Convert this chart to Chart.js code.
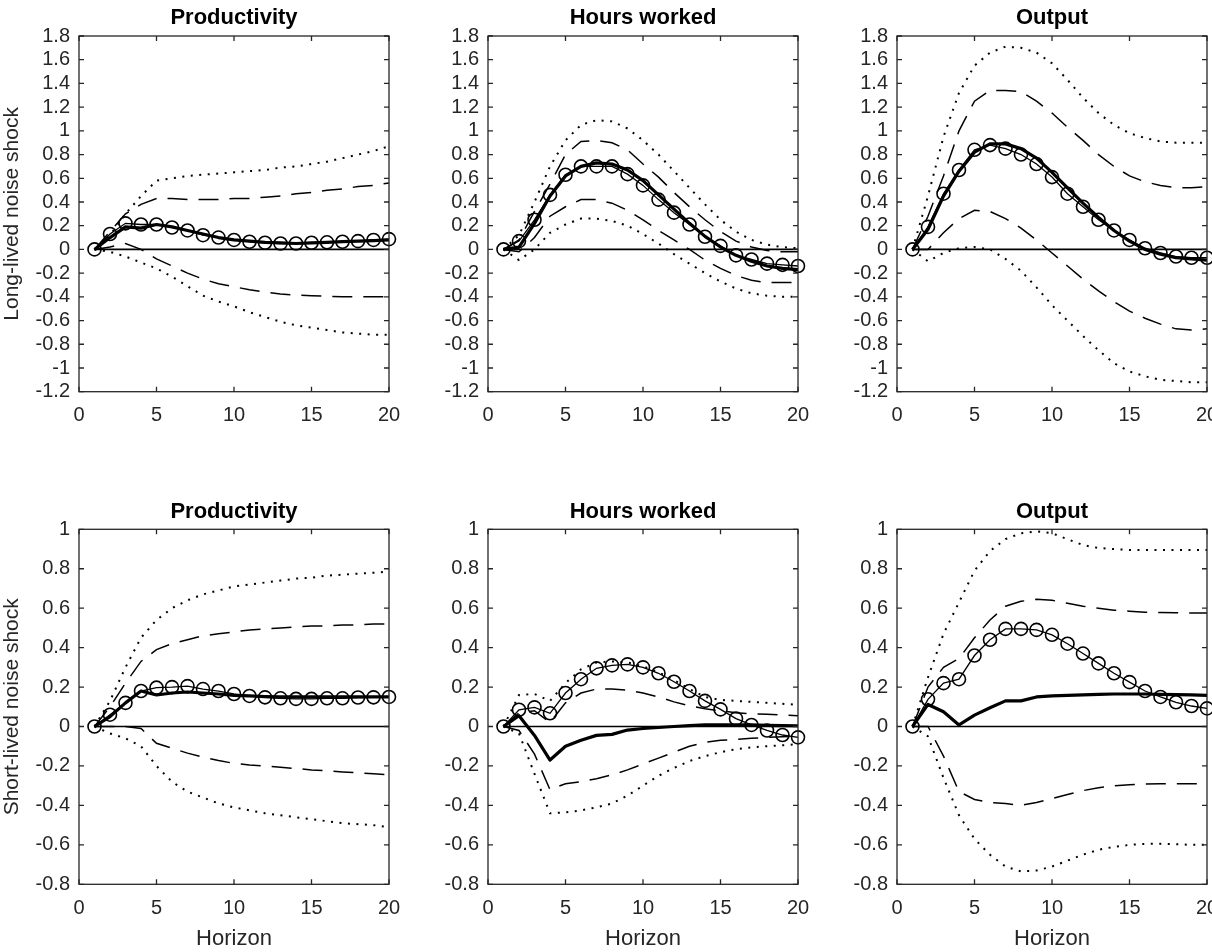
<!DOCTYPE html>
<html>
<head>
<meta charset="utf-8">
<script src="https://cdn.jsdelivr.net/npm/chart.js@4.4.1/dist/chart.umd.min.js"></script>
<style>
  html, body { margin: 0; padding: 0; background: #fff; width: 1212px; height: 952px; overflow: hidden; position: relative; }
  canvas { position: absolute; }
</style>
</head>
<body>
<canvas id="p0"></canvas>
<canvas id="p1"></canvas>
<canvas id="p2"></canvas>
<canvas id="p3"></canvas>
<canvas id="p4"></canvas>
<canvas id="p5"></canvas>
<script>
// Impulse-response horizons and axis ticks
const horizon = [1, 2, 3, 4, 5, 6, 7, 8, 9, 10, 11, 12, 13, 14, 15, 16, 17, 18, 19, 20];
const xTickValues = [0, 5, 10, 15, 20];
const yTicksLong = [-1.2, -1, -0.8, -0.6, -0.4, -0.2, 0, 0.2, 0.4, 0.6, 0.8, 1, 1.2, 1.4, 1.6, 1.8];
const yTicksShort = [-0.8, -0.6, -0.4, -0.2, 0, 0.2, 0.4, 0.6, 0.8, 1];

const variableTitles = ['Productivity', 'Hours worked', 'Output'];
const shockLabels = ['Long-lived noise shock', 'Short-lived noise shock'];
const xAxisLabel = 'Horizon';

// Long-lived noise shock: productivity
const prodLongPoint = [0, 0.10, 0.19, 0.18, 0.21, 0.19, 0.16, 0.13, 0.10, 0.08, 0.07, 0.06, 0.055, 0.05, 0.055, 0.06, 0.065, 0.07, 0.075, 0.08];
const prodLongModel = [0, 0.13, 0.22, 0.21, 0.21, 0.185, 0.16, 0.12, 0.10, 0.08, 0.065, 0.056, 0.05, 0.05, 0.056, 0.06, 0.065, 0.07, 0.08, 0.087];
const prodLongHi68 = [0, 0.15, 0.30, 0.38, 0.43, 0.43, 0.42, 0.42, 0.42, 0.43, 0.43, 0.44, 0.45, 0.47, 0.48, 0.50, 0.51, 0.53, 0.54, 0.56];
const prodLongLo68 = [0, 0.02, 0.05, 0.0, -0.08, -0.14, -0.20, -0.25, -0.29, -0.315, -0.34, -0.36, -0.375, -0.385, -0.39, -0.395, -0.40, -0.40, -0.40, -0.40];
const prodLongHi90 = [0, 0.12, 0.30, 0.45, 0.58, 0.60, 0.62, 0.63, 0.64, 0.65, 0.66, 0.67, 0.69, 0.70, 0.72, 0.74, 0.77, 0.80, 0.83, 0.87];
const prodLongLo90 = [0, -0.02, -0.06, -0.11, -0.16, -0.23, -0.31, -0.39, -0.44, -0.48, -0.53, -0.57, -0.61, -0.64, -0.66, -0.68, -0.70, -0.71, -0.72, -0.72];

// Long-lived noise shock: hours worked
const hoursLongPoint = [0, 0.02, 0.22, 0.45, 0.62, 0.70, 0.73, 0.72, 0.67, 0.58, 0.46, 0.34, 0.22, 0.11, 0.02, -0.05, -0.10, -0.14, -0.16, -0.17];
const hoursLongModel = [0, 0.07, 0.25, 0.46, 0.63, 0.70, 0.70, 0.70, 0.635, 0.54, 0.42, 0.31, 0.21, 0.107, 0.03, -0.05, -0.085, -0.12, -0.13, -0.14];
const hoursLongHi68 = [0, 0.08, 0.32, 0.55, 0.80, 0.91, 0.92, 0.90, 0.84, 0.72, 0.61, 0.48, 0.36, 0.25, 0.15, 0.07, 0.02, -0.01, -0.02, -0.02];
const hoursLongLo68 = [0, -0.02, 0.10, 0.28, 0.36, 0.42, 0.42, 0.39, 0.33, 0.25, 0.16, 0.08, 0.0, -0.09, -0.16, -0.22, -0.26, -0.28, -0.28, -0.28];
const hoursLongHi90 = [0, 0.12, 0.40, 0.70, 0.92, 1.05, 1.09, 1.08, 1.02, 0.92, 0.80, 0.66, 0.52, 0.38, 0.25, 0.15, 0.08, 0.04, 0.02, 0.01];
const hoursLongLo90 = [0, -0.09, 0.0, 0.14, 0.21, 0.26, 0.26, 0.24, 0.20, 0.13, 0.05, -0.04, -0.12, -0.20, -0.27, -0.33, -0.37, -0.39, -0.40, -0.40];

// Long-lived noise shock: output
const outLongPoint = [0, 0.17, 0.45, 0.66, 0.82, 0.89, 0.89, 0.85, 0.77, 0.65, 0.52, 0.39, 0.27, 0.16, 0.07, 0.0, -0.04, -0.07, -0.08, -0.09];
const outLongModel = [0, 0.19, 0.47, 0.67, 0.84, 0.88, 0.85, 0.80, 0.72, 0.61, 0.47, 0.36, 0.25, 0.16, 0.08, 0.01, -0.03, -0.06, -0.07, -0.07];
const outLongHi68 = [0, 0.28, 0.62, 1.0, 1.25, 1.34, 1.34, 1.33, 1.25, 1.15, 1.03, 0.92, 0.80, 0.70, 0.62, 0.57, 0.54, 0.52, 0.52, 0.53];
const outLongLo68 = [0, 0.0, 0.14, 0.26, 0.33, 0.32, 0.26, 0.18, 0.08, -0.03, -0.14, -0.25, -0.35, -0.44, -0.52, -0.58, -0.63, -0.67, -0.68, -0.67];
const outLongHi90 = [0, 0.45, 0.95, 1.32, 1.55, 1.66, 1.71, 1.70, 1.66, 1.57, 1.43, 1.28, 1.15, 1.05, 0.98, 0.94, 0.91, 0.90, 0.90, 0.90];
const outLongLo90 = [0, -0.10, -0.03, 0.01, 0.02, 0.0, -0.08, -0.18, -0.32, -0.47, -0.60, -0.73, -0.85, -0.96, -1.03, -1.07, -1.10, -1.11, -1.12, -1.12];

// Short-lived noise shock: productivity
const prodShortPoint = [0, 0.05, 0.12, 0.18, 0.16, 0.17, 0.175, 0.17, 0.165, 0.158, 0.155, 0.152, 0.15, 0.15, 0.15, 0.15, 0.15, 0.15, 0.15, 0.15];
const prodShortModel = [0, 0.06, 0.12, 0.18, 0.197, 0.20, 0.205, 0.19, 0.18, 0.165, 0.155, 0.148, 0.143, 0.14, 0.14, 0.143, 0.143, 0.147, 0.148, 0.15];
const prodShortHi68 = [0, 0.10, 0.22, 0.33, 0.39, 0.42, 0.44, 0.46, 0.47, 0.48, 0.49, 0.495, 0.50, 0.505, 0.51, 0.51, 0.515, 0.515, 0.52, 0.52];
const prodShortLo68 = [0, 0.0, 0.0, -0.01, -0.085, -0.11, -0.135, -0.155, -0.172, -0.187, -0.195, -0.20, -0.207, -0.213, -0.22, -0.225, -0.23, -0.235, -0.24, -0.245];
const prodShortHi90 = [0, 0.13, 0.30, 0.45, 0.54, 0.60, 0.64, 0.67, 0.69, 0.71, 0.72, 0.73, 0.74, 0.75, 0.755, 0.765, 0.77, 0.775, 0.78, 0.785];
const prodShortLo90 = [0, -0.035, -0.06, -0.10, -0.20, -0.28, -0.33, -0.36, -0.39, -0.41, -0.425, -0.44, -0.45, -0.46, -0.47, -0.48, -0.49, -0.495, -0.50, -0.51];

// Short-lived noise shock: hours worked
const hoursShortPoint = [0, 0.055, -0.045, -0.17, -0.10, -0.07, -0.045, -0.04, -0.018, -0.01, -0.005, 0.0, 0.005, 0.008, 0.008, 0.008, 0.008, 0.006, 0.005, 0.004];
const hoursShortModel = [0, 0.085, 0.097, 0.067, 0.17, 0.24, 0.295, 0.31, 0.315, 0.30, 0.27, 0.227, 0.18, 0.13, 0.087, 0.04, 0.008, -0.02, -0.043, -0.055];
const hoursShortHi68 = [0, 0.07, 0.08, 0.02, 0.12, 0.17, 0.19, 0.19, 0.185, 0.17, 0.15, 0.125, 0.105, 0.09, 0.08, 0.07, 0.065, 0.062, 0.058, 0.055];
const hoursShortLo68 = [0, -0.02, -0.14, -0.32, -0.29, -0.28, -0.265, -0.245, -0.22, -0.19, -0.16, -0.13, -0.10, -0.08, -0.07, -0.065, -0.06, -0.055, -0.052, -0.05];
const hoursShortHi90 = [0, 0.16, 0.165, 0.13, 0.22, 0.29, 0.325, 0.33, 0.325, 0.305, 0.275, 0.235, 0.19, 0.15, 0.135, 0.13, 0.125, 0.12, 0.115, 0.11];
const hoursShortLo90 = [0, -0.035, -0.24, -0.44, -0.435, -0.425, -0.41, -0.39, -0.35, -0.30, -0.25, -0.21, -0.175, -0.15, -0.13, -0.115, -0.105, -0.10, -0.095, -0.09];

// Short-lived noise shock: output
const outShortPoint = [0, 0.112, 0.075, 0.008, 0.058, 0.095, 0.13, 0.13, 0.15, 0.155, 0.158, 0.16, 0.163, 0.165, 0.165, 0.165, 0.163, 0.162, 0.16, 0.158];
const outShortModel = [0, 0.138, 0.22, 0.24, 0.36, 0.44, 0.495, 0.495, 0.49, 0.465, 0.42, 0.37, 0.32, 0.27, 0.225, 0.18, 0.15, 0.123, 0.104, 0.092];
const outShortHi68 = [0, 0.20, 0.30, 0.345, 0.45, 0.54, 0.61, 0.635, 0.645, 0.64, 0.625, 0.61, 0.60, 0.59, 0.585, 0.58, 0.578, 0.577, 0.576, 0.575];
const outShortLo68 = [0, 0.0, -0.15, -0.33, -0.37, -0.385, -0.39, -0.40, -0.385, -0.365, -0.345, -0.325, -0.31, -0.30, -0.295, -0.292, -0.29, -0.29, -0.29, -0.29];
const outShortHi90 = [0, 0.25, 0.47, 0.63, 0.79, 0.89, 0.95, 0.98, 0.99, 0.98, 0.95, 0.92, 0.905, 0.90, 0.895, 0.895, 0.895, 0.895, 0.895, 0.895];
const outShortLo90 = [0, -0.05, -0.26, -0.45, -0.57, -0.65, -0.71, -0.735, -0.73, -0.71, -0.68, -0.65, -0.625, -0.61, -0.60, -0.595, -0.595, -0.597, -0.60, -0.60];

const zeroLine = horizon.map(() => 0);

const panels = [
  { row: 0, col: 0, point: prodLongPoint,   model: prodLongModel,   hi68: prodLongHi68,   lo68: prodLongLo68,   hi90: prodLongHi90,   lo90: prodLongLo90 },
  { row: 0, col: 1, point: hoursLongPoint,  model: hoursLongModel,  hi68: hoursLongHi68,  lo68: hoursLongLo68,  hi90: hoursLongHi90,  lo90: hoursLongLo90 },
  { row: 0, col: 2, point: outLongPoint,    model: outLongModel,    hi68: outLongHi68,    lo68: outLongLo68,    hi90: outLongHi90,    lo90: outLongLo90 },
  { row: 1, col: 0, point: prodShortPoint,  model: prodShortModel,  hi68: prodShortHi68,  lo68: prodShortLo68,  hi90: prodShortHi90,  lo90: prodShortLo90 },
  { row: 1, col: 1, point: hoursShortPoint, model: hoursShortModel, hi68: hoursShortHi68, lo68: hoursShortLo68, hi90: hoursShortHi90, lo90: hoursShortLo90 },
  { row: 1, col: 2, point: outShortPoint,   model: outShortModel,   hi68: outShortHi68,   lo68: outShortLo68,   hi90: outShortHi90,   lo90: outShortLo90 }
];

// Page geometry for the 2x3 grid of axes
const FONT = '"Liberation Sans", Arial, Helvetica, sans-serif';
const colLeft = [0, 409, 818];         // canvas left edges
const Y_AXIS_W = 79;                   // room left of each plot box
const PLOT_W = 310;
const CANVAS_W = Y_AXIS_W + PLOT_W + 30;
const rowGeom = [
  { top: 0,   height: 440, padTop: 4.5,  titleGap: 5.1, xAxisH: 48.3, yMin: -1.2, yMax: 1.8, yTicks: yTicksLong },
  { top: 480, height: 472, padTop: 18.8, titleGap: 4.1, xAxisH: 67.7, yMin: -0.8, yMax: 1.0, yTicks: yTicksShort }
];

const toXY = arr => horizon.map((h, i) => ({ x: h, y: arr[i] }));

// Box around each axes with inward ticks on all four sides
const axesFrame = {
  id: 'axesFrame',
  afterDatasetsDraw(chart) {
    const { ctx, chartArea: a, scales: { x, y } } = chart;
    const tick = 5;
    ctx.save();
    ctx.strokeStyle = '#262626';
    ctx.lineWidth = 1.3;
    ctx.beginPath();
    x.ticks.forEach(t => {
      const px = x.getPixelForValue(t.value);
      ctx.moveTo(px, a.bottom); ctx.lineTo(px, a.bottom - tick);
      ctx.moveTo(px, a.top); ctx.lineTo(px, a.top + tick);
    });
    y.ticks.forEach(t => {
      const py = y.getPixelForValue(t.value);
      ctx.moveTo(a.left, py); ctx.lineTo(a.left + tick, py);
      ctx.moveTo(a.right, py); ctx.lineTo(a.right - tick, py);
    });
    ctx.stroke();
    ctx.strokeRect(a.left, a.top, a.right - a.left, a.bottom - a.top);
    ctx.restore();
  }
};

panels.forEach((p, idx) => {
  const g = rowGeom[p.row];
  const canvas = document.getElementById('p' + idx);
  canvas.width = CANVAS_W;
  canvas.height = g.height;
  canvas.style.left = colLeft[p.col] + 'px';
  canvas.style.top = g.top + 'px';

  const line = (data, extra) => Object.assign({
    data: toXY(data),
    borderColor: '#000',
    backgroundColor: '#000',
    borderWidth: 1.5,
    pointRadius: 0,
    pointHoverRadius: 0,
    tension: 0,
    fill: false
  }, extra);

  const datasets = [
    line(p.model, {
      borderWidth: 1.3,
      pointRadius: 6.5,
      pointBorderWidth: 1.6,
      pointBackgroundColor: 'rgba(0,0,0,0)',
      pointBorderColor: '#000',
      clip: false
    }),
    line(p.point, { borderWidth: 3.2, borderJoinStyle: 'round' }),
    line(p.hi68, { borderWidth: 1.5, borderDash: [20, 11] }),
    line(p.lo68, { borderWidth: 1.5, borderDash: [20, 11] }),
    line(p.hi90, { borderWidth: 2, borderDash: [2, 6.5] }),
    line(p.lo90, { borderWidth: 2, borderDash: [2, 6.5] }),
    line(zeroLine, { borderWidth: 1.6 })
  ];

  const isLeft = p.col === 0;
  const isBottom = p.row === 1;

  new Chart(canvas, {
    type: 'line',
    data: { datasets },
    plugins: [axesFrame],
    options: {
      responsive: false,
      animation: false,
      devicePixelRatio: 1,
      events: [],
      layout: { padding: { top: g.padTop, left: 0, right: 30, bottom: 0 } },
      plugins: {
        legend: { display: false },
        tooltip: { enabled: false },
        title: {
          display: true,
          text: variableTitles[p.col],
          fullSize: false,
          color: '#000',
          font: { family: FONT, size: 22, weight: 'bold', lineHeight: 1.2 },
          padding: { top: 0, bottom: g.titleGap }
        }
      },
      scales: {
        x: {
          type: 'linear',
          min: 0,
          max: 20,
          afterBuildTicks: s => { s.ticks = xTickValues.map(v => ({ value: v })); },
          afterFit: s => { s.height = g.xAxisH; },
          grid: { display: false, drawTicks: false },
          border: { display: false },
          ticks: { color: '#262626', padding: 12, maxRotation: 0, autoSkip: false, font: { family: FONT, size: 20 } },
          title: {
            display: isBottom,
            text: xAxisLabel,
            color: '#262626',
            font: { family: FONT, size: 22, lineHeight: 1.2 },
            padding: { top: 0, bottom: 0 }
          }
        },
        y: {
          type: 'linear',
          min: g.yMin,
          max: g.yMax,
          afterBuildTicks: s => { s.ticks = g.yTicks.map(v => ({ value: v })); },
          afterFit: s => { s.width = Y_AXIS_W; },
          grid: { display: false, drawTicks: false },
          border: { display: false },
          ticks: {
            color: '#262626',
            padding: 9,
            autoSkip: false,
            font: { family: FONT, size: 20 },
            callback: v => String(Math.round(v * 10) / 10)
          },
          title: {
            display: isLeft,
            text: shockLabels[p.row],
            color: '#262626',
            font: { family: FONT, size: 21, lineHeight: 1.2 },
            padding: { top: 0, bottom: 0 }
          }
        }
      }
    }
  });
});
</script>
</body>
</html>
